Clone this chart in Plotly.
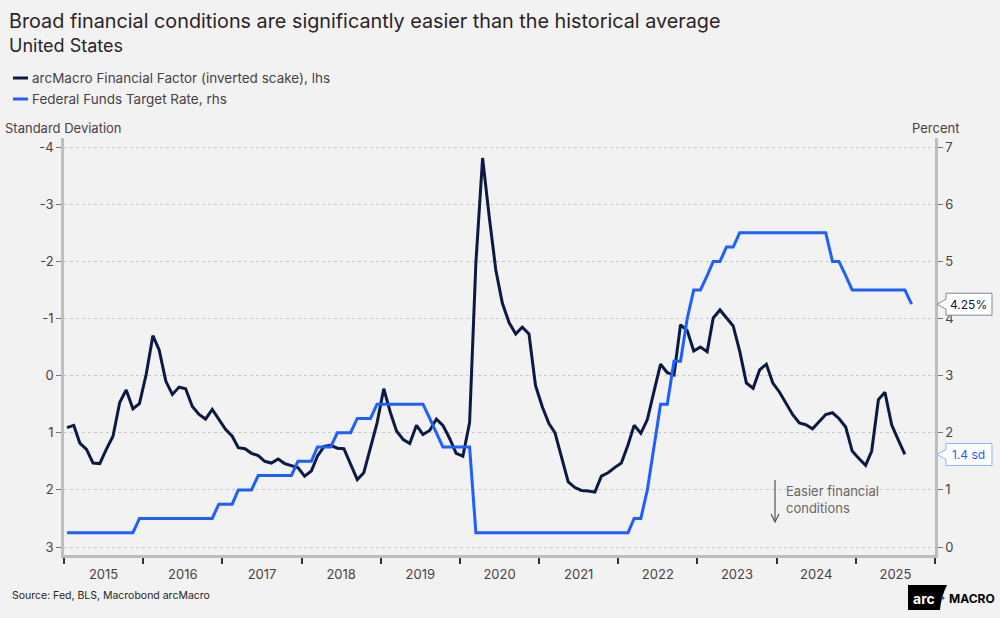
import pandas as pd
import plotly.graph_objects as go

# ---------------- data ----------------
# arcMacro Financial Factor (inverted scale), monthly from Jan 2015
factor = [
    0.91, 0.87, 1.18, 1.29, 1.53, 1.54, 1.29, 1.06, 0.47, 0.25, 0.58, 0.49,      # 2015
    -0.02, -0.70, -0.45, 0.10, 0.33, 0.20, 0.23, 0.54, 0.68, 0.76, 0.59, 0.77,   # 2016
    0.94, 1.06, 1.26, 1.28, 1.36, 1.40, 1.50, 1.53, 1.46, 1.54, 1.58, 1.61,      # 2017
    1.76, 1.67, 1.41, 1.24, 1.22, 1.27, 1.28, 1.56, 1.82, 1.70, 1.26, 0.83,      # 2018
    0.23, 0.65, 0.97, 1.12, 1.19, 0.87, 1.03, 0.96, 0.76, 0.87, 1.10, 1.36,      # 2019
    1.41, 0.82, -1.97, -3.81, -2.80, -1.85, -1.27, -0.93, -0.73, -0.85, -0.73, 0.17,  # 2020
    0.54, 0.84, 1.00, 1.44, 1.86, 1.96, 2.01, 2.02, 2.04, 1.76, 1.70, 1.61,      # 2021
    1.53, 1.21, 0.87, 1.01, 0.77, 0.27, -0.20, -0.05, -0.01, -0.89, -0.79, -0.43,  # 2022
    -0.50, -0.42, -1.01, -1.15, -1.01, -0.87, -0.43, 0.13, 0.22, -0.10, -0.20, 0.13,  # 2023
    0.29, 0.48, 0.68, 0.83, 0.86, 0.93, 0.80, 0.68, 0.65, 0.75, 0.90, 1.32,      # 2024
    1.45, 1.57, 1.32, 0.42, 0.29, 0.86, 1.12, 1.38,                              # 2025
]

# Federal Funds Target Rate (upper bound), monthly from Jan 2015
fed_rate = [
    0.25, 0.25, 0.25, 0.25, 0.25, 0.25, 0.25, 0.25, 0.25, 0.25, 0.25, 0.50,      # 2015
    0.50, 0.50, 0.50, 0.50, 0.50, 0.50, 0.50, 0.50, 0.50, 0.50, 0.50, 0.75,      # 2016
    0.75, 0.75, 1.00, 1.00, 1.00, 1.25, 1.25, 1.25, 1.25, 1.25, 1.25, 1.50,      # 2017
    1.50, 1.50, 1.75, 1.75, 1.75, 2.00, 2.00, 2.00, 2.25, 2.25, 2.25, 2.50,      # 2018
    2.50, 2.50, 2.50, 2.50, 2.50, 2.50, 2.50, 2.25, 2.00, 1.75, 1.75, 1.75,      # 2019
    1.75, 1.75, 0.25, 0.25, 0.25, 0.25, 0.25, 0.25, 0.25, 0.25, 0.25, 0.25,      # 2020
    0.25, 0.25, 0.25, 0.25, 0.25, 0.25, 0.25, 0.25, 0.25, 0.25, 0.25, 0.25,      # 2021
    0.25, 0.25, 0.50, 0.50, 1.00, 1.75, 2.50, 2.50, 3.25, 3.25, 4.00, 4.50,      # 2022
    4.50, 4.75, 5.00, 5.00, 5.25, 5.25, 5.50, 5.50, 5.50, 5.50, 5.50, 5.50,      # 2023
    5.50, 5.50, 5.50, 5.50, 5.50, 5.50, 5.50, 5.50, 5.00, 5.00, 4.75, 4.50,      # 2024
    4.50, 4.50, 4.50, 4.50, 4.50, 4.50, 4.50, 4.50, 4.25,                        # 2025
]

factor_dates = pd.date_range("2015-01-01", periods=len(factor), freq="MS") + pd.Timedelta(days=14)
fed_dates = pd.date_range("2015-01-01", periods=len(fed_rate), freq="MS") + pd.Timedelta(days=14)

left_ticks = [-4, -3, -2, -1, 0, 1, 2, 3]
left_ticktext = ["-4", "-3", "-2", "-1", "0", "1", "2", "3"]
right_ticks = [0, 1, 2, 3, 4, 5, 6, 7]

NAVY = "#0b1a45"
BLUE = "#1d5fff"
TEXT = "#2b2326"
TICKTXT = "#4a4145"
AXIS = "#bdbdbd"
BG = "#f2f2f2"
FONT = "Inter"

# layout helpers: pixel -> paper
L, R, T, B = 64, 935, 138, 555
def pxx(x):
    return (x - L) / (R - L)
def pxy(y):
    return (B - y) / (B - T)

fig = go.Figure()
fig.add_trace(go.Scatter(x=factor_dates, y=factor, mode="lines", name="arcMacro Financial Factor (inverted scake), lhs",
                         line=dict(color=NAVY, width=3), yaxis="y"))
fig.add_trace(go.Scatter(x=fed_dates, y=fed_rate, mode="lines", name="Federal Funds Target Rate, rhs",
                         line=dict(color=BLUE, width=3), yaxis="y2"))

fig.update_layout(
    width=1000, height=618,
    margin=dict(l=L, r=1000 - R, t=T, b=618 - B),
    paper_bgcolor=BG, plot_bgcolor=BG,
    showlegend=False,
    font=dict(family=FONT, size=13, color=TICKTXT),
    xaxis=dict(
        type="date", range=["2015-01-01", "2026-01-01"],
        tick0="2015-01-01", dtick="M12", tickformat="%Y", ticklabelmode="period",
        ticks="outside", ticklen=6, tickwidth=1.5, tickcolor="#333333",
        showline=True, linecolor=AXIS, linewidth=2.5,
        showgrid=False, zeroline=False,
        tickfont=dict(size=13, color=TICKTXT),
    ),
    yaxis=dict(
        range=[3.14, -4.16],
        tickvals=left_ticks, ticktext=left_ticktext,
        ticks="outside", ticklen=5, tickcolor="#777777",
        showline=True, linecolor=AXIS, linewidth=2.5,
        showgrid=True, gridcolor="#c8c8c8", griddash="dot", gridwidth=1,
        zeroline=False, tickfont=dict(size=13, color=TICKTXT),
    ),
    yaxis2=dict(
        range=[-0.14, 7.16], overlaying="y", side="right",
        tickvals=right_ticks,
        ticks="outside", ticklen=5, tickcolor="#777777",
        showline=True, linecolor=AXIS, linewidth=2.5,
        showgrid=False, zeroline=False, tickfont=dict(size=13, color=TICKTXT),
    ),
)

ann = []
# title & subtitle
ann.append(dict(text="Broad financial conditions are significantly easier than the historical average",
                xref="paper", yref="paper", x=pxx(7), y=pxy(21), xanchor="left", yanchor="middle",
                showarrow=False, font=dict(size=19.8, color=TEXT, family=FONT)))
ann.append(dict(text="United States", xref="paper", yref="paper", x=pxx(7), y=pxy(45),
                xanchor="left", yanchor="middle", showarrow=False, font=dict(size=18, color=TEXT, family=FONT)))
# legend (custom)
leg_items = [("arcMacro Financial Factor (inverted scake), lhs", NAVY, 78),
             ("Federal Funds Target Rate, rhs", BLUE, 99)]
shapes = []
for label, col, yy in leg_items:
    shapes.append(dict(type="line", xref="paper", yref="paper", x0=pxx(13), x1=pxx(28), y0=pxy(yy), y1=pxy(yy),
                       line=dict(color=col, width=3)))
    ann.append(dict(text=label, xref="paper", yref="paper", x=pxx(30), y=pxy(yy), xanchor="left", yanchor="middle",
                    showarrow=False, font=dict(size=13.5, color=TICKTXT, family=FONT)))
# axis titles
ann.append(dict(text="Standard Deviation", xref="paper", yref="paper", x=pxx(3), y=pxy(128), xanchor="left",
                yanchor="middle", showarrow=False, font=dict(size=13, color=TICKTXT, family=FONT)))
ann.append(dict(text="Percent", xref="paper", yref="paper", x=pxx(961), y=pxy(128), xanchor="right",
                yanchor="middle", showarrow=False, font=dict(size=13, color=TICKTXT, family=FONT)))
# source
ann.append(dict(text="Source: Fed, BLS, Macrobond arcMacro", xref="paper", yref="paper", x=pxx(10), y=pxy(595),
                xanchor="left", yanchor="middle", showarrow=False, font=dict(size=10.5, color=TEXT, family=FONT)))

# easier financial conditions note
ann.append(dict(text="Easier financial<br>conditions", xref="paper", yref="paper", x=pxx(784), y=pxy(499),
                xanchor="left", yanchor="middle", align="left", showarrow=False,
                font=dict(size=13, color="#6e6468", family=FONT)))
shapes.append(dict(type="line", xref="paper", yref="paper", x0=pxx(775), x1=pxx(775), y0=pxy(480), y1=pxy(522),
                   line=dict(color="#5a5054", width=1.2)))
shapes.append(dict(type="path", xref="paper", yref="paper",
                   path=f"M {pxx(771)},{pxy(514)} L {pxx(775)},{pxy(522)} L {pxx(779)},{pxy(514)}",
                   line=dict(color="#5a5054", width=1.2)))

# end-value callouts
def callout(yval, yref, units_per_px, text, border, txtcol):
    h = 11 * units_per_px
    n = 5 * units_per_px
    x0, x1, tip = pxx(946), pxx(992), pxx(937)
    path = (f"M {x0},{yval - h} L {x1},{yval - h} L {x1},{yval + h} L {x0},{yval + h} "
            f"L {x0},{yval + n} L {tip},{yval} L {x0},{yval - n} Z")
    shapes.append(dict(type="path", xref="paper", yref=yref, path=path, fillcolor="white",
                       line=dict(color=border, width=1), layer="above"))
    ann.append(dict(text=text, xref="paper", yref=yref, x=(x0 + x1) / 2, y=yval, xanchor="center",
                    yanchor="middle", showarrow=False, font=dict(size=12, color=txtcol, family=FONT)))

px_per_left = (B - T) / (3.14 + 4.16)
callout(fed_rate[-1], "y2", 1 / px_per_left, f"{fed_rate[-1]:.2f}%", "#7d86a3", NAVY)
callout(factor[-1], "y", -1 / px_per_left, f"{factor[-1]:.1f} sd", "#8fb1ff", BLUE)

# logo
shapes.append(dict(type="path", xref="paper", yref="paper",
                   path=(f"M {pxx(908)},{pxy(585)} L {pxx(947)},{pxy(585)} "
                         f"Q {pxx(941)},{pxy(597)} {pxx(940)},{pxy(610)} L {pxx(908)},{pxy(610)} Z"),
                   fillcolor="black", line=dict(width=0)))
shapes.append(dict(type="circle", xref="paper", yref="paper", x0=pxx(941.5), x1=pxx(944.5), y0=pxy(596.5),
                   y1=pxy(599.5), fillcolor=BLUE, line=dict(width=0)))
ann.append(dict(text="<b>arc</b>", xref="paper", yref="paper", x=pxx(924), y=pxy(598), xanchor="center",
                yanchor="middle", showarrow=False, font=dict(size=14, color="white", family=FONT)))
ann.append(dict(text="<b>MACRO</b>", xref="paper", yref="paper", x=pxx(947), y=pxy(598), xanchor="left",
                yanchor="middle", showarrow=False, font=dict(size=12, color="black", family=FONT)))

fig.update_layout(annotations=ann, shapes=shapes)
fig.write_html("out.html", config={"displayModeBar": False},
               post_script="document.body.style.margin='0';document.body.style.padding='0';")
